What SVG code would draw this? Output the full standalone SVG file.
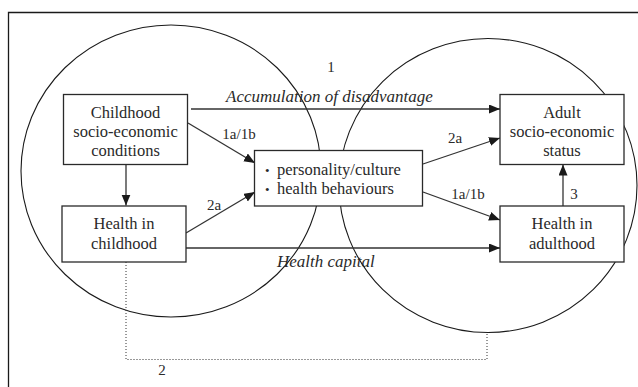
<svg xmlns="http://www.w3.org/2000/svg" width="638" height="387" viewBox="0 0 638 387">
<style>
.box{fill:#fff;stroke:#2a2a2a;stroke-width:1.3}
.ring{fill:none;stroke:#1a1a1a;stroke-width:1.1}
text{font-family:'Liberation Serif','Times New Roman','DejaVu Serif',serif;fill:#2a2a2a}
.t{font-size:16.5px;text-anchor:middle}
.it{font-size:17px;font-style:italic}
.lb{font-size:15px;text-anchor:middle}
.ln{fill:none;stroke:#333;stroke-width:1.3}
.dot{fill:none;stroke:#333;stroke-width:1;stroke-dasharray:1 2}
</style>
<defs>
<marker id="ah" markerUnits="userSpaceOnUse" markerWidth="12" markerHeight="10" refX="11" refY="4.5" orient="auto">
<path d="M0,0 L11,4.5 L0,9 z" fill="#1a1a1a"/>
</marker>
</defs>
<rect width="638" height="387" fill="#fff"/>
<path d="M8.5,400 V12.5 H660" fill="none" stroke="#1a1a1a" stroke-width="1.3"/>
<g id="circles">
<ellipse class="ring" cx="171" cy="171" rx="150" ry="146"/>
<ellipse class="ring" cx="488" cy="185.5" rx="149" ry="147"/>
</g>
<g id="connectors">
<line class="ln" x1="191" y1="109" x2="500" y2="109" marker-end="url(#ah)"/>
<line class="ln" x1="126" y1="164.5" x2="126" y2="205.5" marker-end="url(#ah)"/>
<line class="ln" x1="188" y1="123" x2="255" y2="163" marker-end="url(#ah)"/>
<line class="ln" x1="186" y1="233" x2="255" y2="192" marker-end="url(#ah)"/>
<line class="ln" x1="186" y1="248" x2="500" y2="248" marker-end="url(#ah)"/>
<line class="ln" x1="423" y1="164" x2="500" y2="138" marker-end="url(#ah)"/>
<line class="ln" x1="423" y1="192" x2="500" y2="220" marker-end="url(#ah)"/>
<line class="ln" x1="563" y1="206" x2="563" y2="164.5" marker-end="url(#ah)"/>
<path class="dot" d="M126,262 V359.5 H487 V333"/>
<text class="lb" x="331" y="72">1</text>
<text class="it" x="226" y="102">Accumulation of disadvantage</text>
<text class="lb" x="239" y="139">1a/1b</text>
<text class="lb" x="214" y="210">2a</text>
<text class="lb" x="455" y="143">2a</text>
<text class="lb" x="468" y="199">1a/1b</text>
<text class="lb" x="574" y="199">3</text>
<text class="it" x="277" y="267">Health capital</text>
<text class="lb" x="162" y="375">2</text>
</g>
<g id="childhood-ses">
<rect class="box" x="63.5" y="94.5" width="124" height="70"/>
<text class="t" x="125.5" y="117.5">Childhood</text>
<text class="t" x="125.5" y="136.5">socio-economic</text>
<text class="t" x="125.5" y="156">conditions</text>
</g>
<g id="health-childhood">
<rect class="box" x="62" y="206" width="124" height="56"/>
<text class="t" x="124" y="228.5">Health in</text>
<text class="t" x="124" y="248.5">childhood</text>
</g>
<g id="personality">
<rect class="box" x="254.5" y="150.5" width="168" height="55.5"/>
<text class="t" x="277" y="175" style="text-anchor:start"><tspan x="265" font-size="13">•</tspan><tspan x="277">personality/culture</tspan></text>
<text class="t" x="277" y="194" style="text-anchor:start"><tspan x="265" font-size="13">•</tspan><tspan x="277">health behaviours</tspan></text>
</g>
<g id="adult-ses">
<rect class="box" x="500" y="94.5" width="124" height="70"/>
<text class="t" x="562" y="117.5">Adult</text>
<text class="t" x="562" y="136.5">socio-economic</text>
<text class="t" x="562" y="156">status</text>
</g>
<g id="health-adulthood">
<rect class="box" x="500" y="206" width="124" height="56"/>
<text class="t" x="562" y="228.5">Health in</text>
<text class="t" x="562" y="248.5">adulthood</text>
</g>
</svg>
